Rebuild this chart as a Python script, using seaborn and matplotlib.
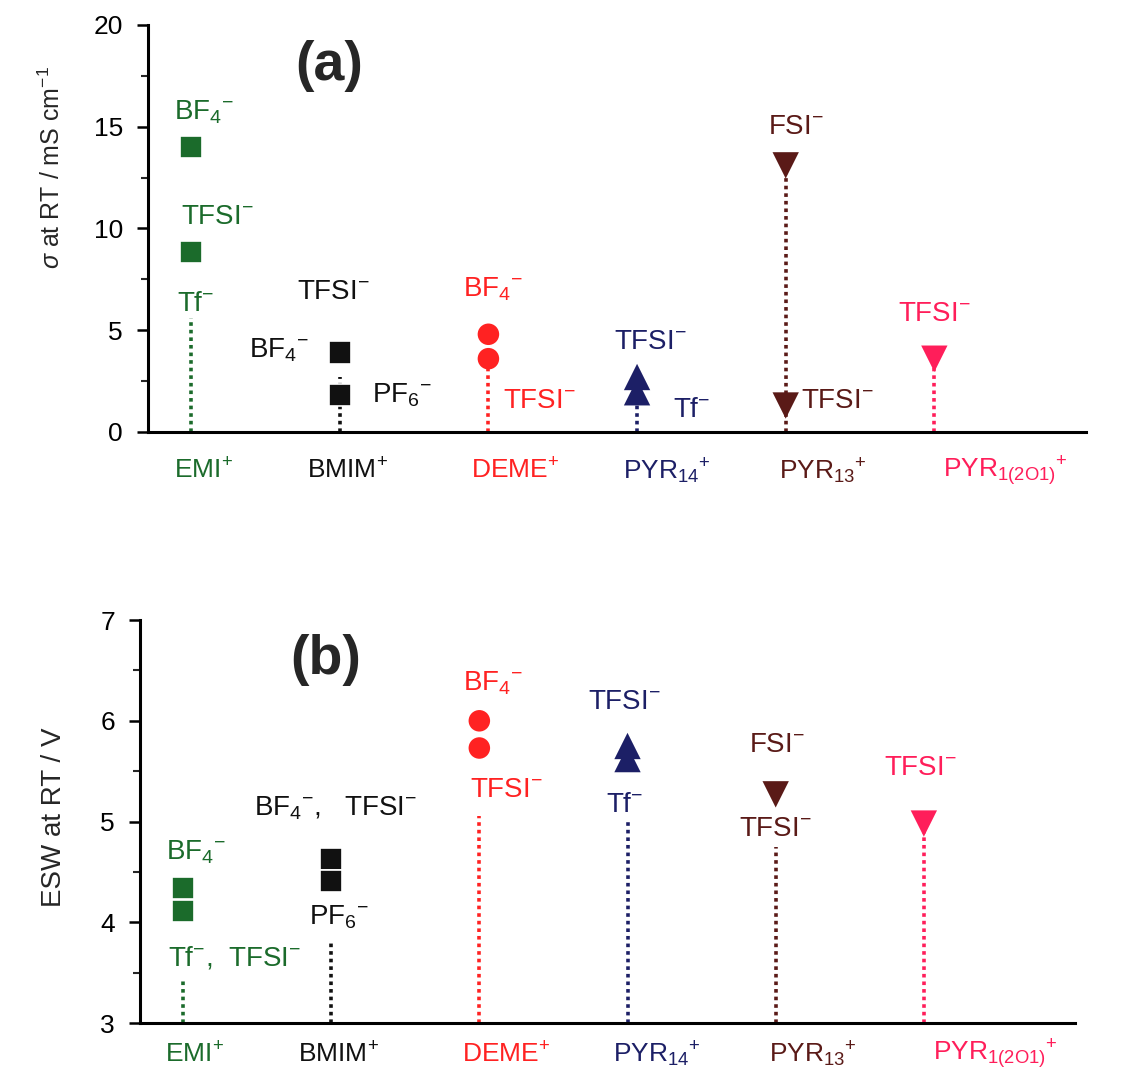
import matplotlib
matplotlib.use("Agg")
import matplotlib.pyplot as plt
import seaborn as sns
import pandas as pd
from matplotlib.ticker import MultipleLocator
import matplotlib.transforms as mtransforms

# ---------------- data ----------------
cations = ["EMI", "BMIM", "DEME", "PYR14", "PYR13", "PYR1(2O1)"]
cation_labels = [r"EMI$^{+}$", r"BMIM$^{+}$", r"DEME$^{+}$", r"PYR$_{14}$$^{+}$",
                 r"PYR$_{13}$$^{+}$", r"PYR$_{\mathrm{1(2O1)}}$$^{+}$"]
cation_colors = ["#1b6b2b", "#111111", "#ff2222", "#1c1f66", "#5a1a17", "#ff1e5a"]
cation_markers = ["s", "s", "o", "^", "v", "v"]

# (a) conductivity, mS/cm
sigma_cation = ["EMI", "EMI", "BMIM", "BMIM", "DEME", "DEME", "PYR14", "PYR14", "PYR13", "PYR13", "PYR1(2O1)"]
sigma_anion = ["BF4", "TFSI", "BF4", "PF6", "BF4", "TFSI", "TFSI", "Tf", "FSI", "TFSI", "TFSI"]
sigma_value = [14.0, 8.85, 3.9, 1.8, 4.8, 3.6, 2.7, 1.95, 13.1, 1.3, 3.6]
sigma_stem_top = [5.6, 2.7, 3.4, 1.6, 13.1, 3.6]

# (b) electrochemical stability window, V
esw_cation = ["EMI", "EMI", "BMIM", "BMIM", "DEME", "DEME", "PYR14", "PYR14", "PYR13", "PYR1(2O1)"]
esw_anion = ["BF4", "TFSI", "BF4", "PF6", "BF4", "TFSI", "TFSI", "Tf", "FSI", "TFSI"]
esw_value = [4.34, 4.11, 4.63, 4.41, 6.0, 5.73, 5.75, 5.62, 5.27, 4.98]
esw_stem_top = [3.42, 3.8, 5.06, 5.0, 4.75, 4.95]

# anion annotations: (cation index, text, dx, y)
sigma_notes = [
    (0, r"BF$_4$$^{-}$", 0.09, 15.7), (0, r"TFSI$^{-}$", 0.18, 10.55), (0, r"Tf$^{-}$", 0.03, 6.3),
    (1, r"TFSI$^{-}$", -0.04, 6.9), (1, r"BF$_4$$^{-}$", -0.41, 4.0), (1, r"PF$_6$$^{-}$", 0.42, 1.8),
    (2, r"BF$_4$$^{-}$", 0.03, 7.0), (2, r"TFSI$^{-}$", 0.34, 1.5),
    (3, r"TFSI$^{-}$", 0.09, 4.4), (3, r"Tf$^{-}$", 0.37, 1.1),
    (4, r"FSI$^{-}$", 0.07, 15.0), (4, r"TFSI$^{-}$", 0.35, 1.5),
    (5, r"TFSI$^{-}$", 0.0, 5.8),
]
esw_notes = [
    (0, r"BF$_4$$^{-}$", 0.09, 4.70), (0, r"Tf$^{-}$,  TFSI$^{-}$", 0.35, 3.65),
    (1, r"BF$_4$$^{-}$,   TFSI$^{-}$", 0.03, 5.13), (1, r"PF$_6$$^{-}$", 0.05, 4.05),
    (2, r"BF$_4$$^{-}$", 0.09, 6.37), (2, r"TFSI$^{-}$", 0.18, 5.31),
    (3, r"TFSI$^{-}$", -0.02, 6.19), (3, r"Tf$^{-}$", -0.02, 5.16),
    (4, r"FSI$^{-}$", 0.01, 5.76), (4, r"TFSI$^{-}$", 0.0, 4.93),
    (5, r"TFSI$^{-}$", -0.02, 5.53),
]
label_dx = [0.08, 0.05, 0.18, 0.20, 0.25, 0.48]

# ---------------- style ----------------
sns.set_style("ticks")
plt.rcParams["font.family"] = ["Liberation Sans", "DejaVu Sans"]
plt.rcParams["mathtext.fontset"] = "custom"
plt.rcParams["mathtext.rm"] = "Liberation Sans"
plt.rcParams["mathtext.it"] = "Liberation Sans:italic"
plt.rcParams["mathtext.bf"] = "Liberation Sans:bold"

pal = dict(zip(cations, cation_colors))
mk = dict(zip(cations, cation_markers))
sizes = {"EMI": 256, "BMIM": 256, "DEME": 240, "PYR14": 360, "PYR13": 360, "PYR1(2O1)": 360}
pos = {c: i for i, c in enumerate(cations)}

fig = plt.figure(figsize=(11.43, 10.70), dpi=100)
ax1 = fig.add_axes([0.1295, 0.5963, 0.8206, 0.3804])
ax2 = fig.add_axes([0.1225, 0.0439, 0.818, 0.3766])


def draw(ax, cat, anion, vals, stems, base, notes, ylim, major, minor, ylabel,
         panel, panel_xy, ylab_xy, cat_y, ylab_fs):
    df = pd.DataFrame({"cation": cat, "anion": anion, "value": vals})
    df["x"] = df["cation"].map(pos)
    ax.vlines([pos[c] for c in cations], base, stems, colors=cation_colors,
              linestyles=(0, (1, 1.1)), linewidth=2.6, zorder=1)
    sq = df[df["cation"].isin(["EMI", "BMIM"])]
    rest = df[~df["cation"].isin(["EMI", "BMIM"])]
    for sub, ec, lw in [(sq, "white", 1.2), (rest, "none", 0)]:
        sns.scatterplot(data=sub, x="x", y="value", hue="cation", style="cation",
                        size="cation", sizes=sizes, palette=pal, markers=mk,
                        edgecolor=ec, linewidth=lw, legend=False, ax=ax, zorder=3)
    for ci, txt, dx, y in notes:
        ax.text(ci + dx, y, txt, color=cation_colors[ci], fontsize=20,
                ha="center", va="center")
    tr = mtransforms.blended_transform_factory(ax.transData, ax.transAxes)
    for i, lab in enumerate(cation_labels):
        ax.text(i + label_dx[i], cat_y, lab, color=cation_colors[i], fontsize=19,
                ha="center", va="center", transform=tr)
    ax.set_xlim(-0.29, 6.02)
    ax.set_ylim(*ylim)
    ax.set_xticks([])
    ax.yaxis.set_major_locator(MultipleLocator(major))
    ax.yaxis.set_minor_locator(MultipleLocator(minor))
    ax.tick_params(axis="y", which="major", direction="out", length=8, width=1.8,
                   labelsize=19, pad=10, colors="black")
    ax.tick_params(axis="y", which="minor", direction="out", length=5, width=1.5)
    sns.despine(ax=ax)
    for s in ["left", "bottom"]:
        ax.spines[s].set_linewidth(2.2)
        ax.spines[s].set_color("black")
    ax.set_xlabel("")
    ax.set_ylabel(ylabel, fontsize=ylab_fs)
    ax.yaxis.set_label_coords(*ylab_xy)
    ax.text(panel_xy[0], panel_xy[1], panel, fontsize=40, fontweight="bold",
            ha="center", va="center")


draw(ax1, sigma_cation, sigma_anion, sigma_value, sigma_stem_top, 0, sigma_notes,
     (0, 20), 5, 2.5, r"$\sigma$ at RT / mS cm$^{-1}$", "(a)", (0.93, 18.0),
     (-0.088, 0.65), -0.096, 18)
draw(ax2, esw_cation, esw_anion, esw_value, esw_stem_top, 3, esw_notes,
     (3, 7), 1, 0.5, "ESW at RT / V", "(b)", (0.96, 6.6),
     (-0.078, 0.51), -0.078, 20)

fig.savefig("out.png", dpi=100, facecolor="white")
